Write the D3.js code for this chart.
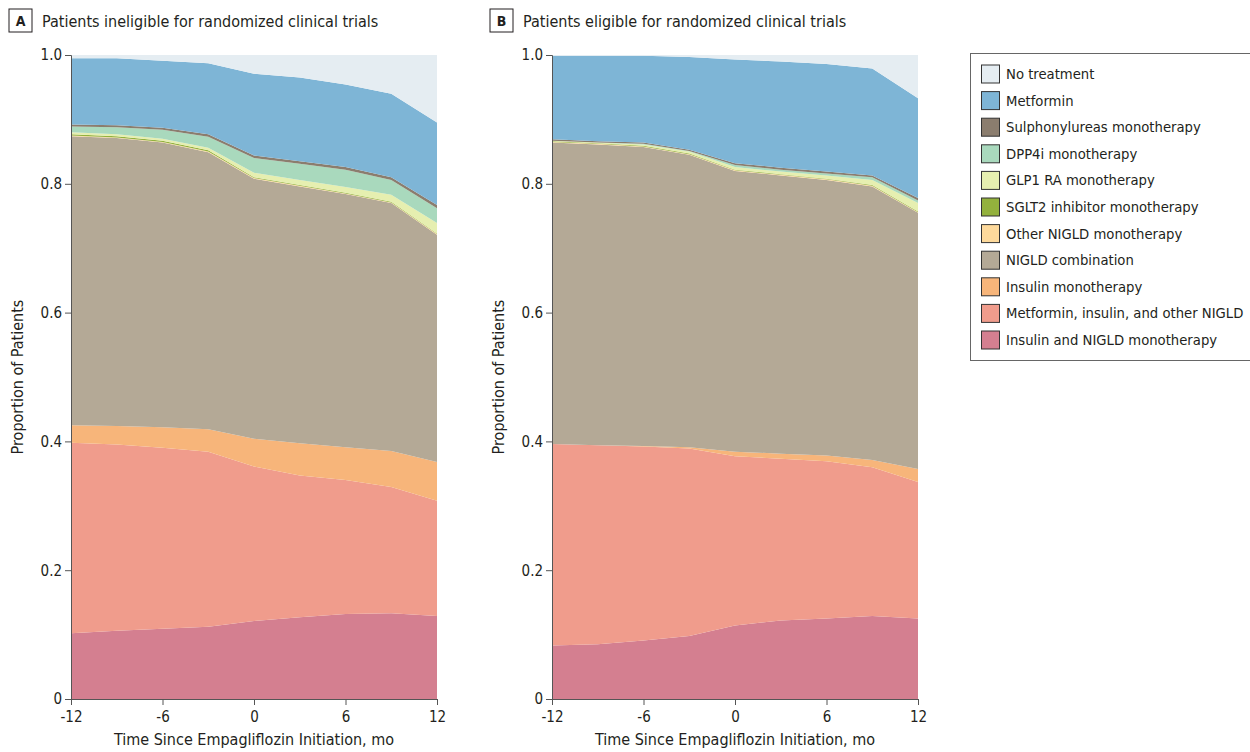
<!DOCTYPE html>
<html>
<head>
<meta charset="utf-8">
<script src="https://cdn.jsdelivr.net/npm/d3@7"></script>
<style>
  body { margin: 0; background: #fff; }
  svg text { font-family: "Liberation Sans Narrow", "DejaVu Sans Condensed", "Noto Sans", sans-serif; fill: #231f20; }
</style>
</head>
<body>
<svg id="chart" width="1250" height="752"></svg>
<script>
// months since empagliflozin initiation
let months = [-12, -9, -6, -3, 0, 3, 6, 9, 12]
let xTicks = [-12, -6, 0, 6, 12]
let yTicks = [0, 0.2, 0.4, 0.6, 0.8, 1.0]

// categories from bottom to top of the stack
let categories = [
  'Insulin and NIGLD monotherapy',
  'Metformin, insulin, and other NIGLD',
  'Insulin monotherapy',
  'NIGLD combination',
  'Other NIGLD monotherapy',
  'SGLT2 inhibitor monotherapy',
  'GLP1 RA monotherapy',
  'DPP4i monotherapy',
  'Sulphonylureas monotherapy',
  'Metformin',
  'No treatment'
]
let colors = ['#d47f90', '#f09c8c', '#f7b57a', '#b4a996', '#fdd99b', '#93b13d', '#e6efb0', '#a9d9bd', '#8b7d6e', '#7eb5d6', '#e5edf2']

// panel A: patients ineligible for RCTs (proportions)
let ineligible = [
  [0.102, 0.106, 0.109, 0.112, 0.121, 0.127, 0.132, 0.133, 0.129],
  [0.296, 0.289, 0.281, 0.272, 0.240, 0.220, 0.208, 0.196, 0.179],
  [0.027, 0.029, 0.032, 0.035, 0.043, 0.050, 0.051, 0.056, 0.060],
  [0.449, 0.447, 0.442, 0.430, 0.404, 0.399, 0.393, 0.385, 0.353],
  [0.001, 0.001, 0.001, 0.001, 0.001, 0.001, 0.001, 0.001, 0.001],
  [0.002, 0.002, 0.002, 0.002, 0.001, 0.001, 0.001, 0.001, 0.001],
  [0.003, 0.003, 0.003, 0.004, 0.007, 0.008, 0.009, 0.011, 0.016],
  [0.009, 0.011, 0.014, 0.017, 0.023, 0.025, 0.027, 0.023, 0.023],
  [0.003, 0.003, 0.003, 0.004, 0.004, 0.004, 0.004, 0.004, 0.005],
  [0.103, 0.104, 0.104, 0.110, 0.127, 0.130, 0.128, 0.130, 0.128],
  [0.005, 0.005, 0.009, 0.013, 0.029, 0.035, 0.046, 0.060, 0.105]
]

// panel B: patients eligible for RCTs
let eligible = [
  [0.083, 0.085, 0.091, 0.098, 0.114, 0.122, 0.125, 0.129, 0.125],
  [0.313, 0.309, 0.301, 0.291, 0.263, 0.251, 0.244, 0.231, 0.212],
  [0.000, 0.000, 0.001, 0.002, 0.007, 0.008, 0.009, 0.011, 0.020],
  [0.468, 0.467, 0.464, 0.454, 0.436, 0.432, 0.428, 0.425, 0.398],
  [0.001, 0.001, 0.001, 0.001, 0.001, 0.001, 0.001, 0.001, 0.001],
  [0.001, 0.001, 0.001, 0.001, 0.001, 0.001, 0.001, 0.001, 0.001],
  [0.001, 0.001, 0.002, 0.003, 0.004, 0.004, 0.005, 0.008, 0.013],
  [0.000, 0.000, 0.001, 0.001, 0.003, 0.003, 0.003, 0.004, 0.004],
  [0.002, 0.002, 0.002, 0.002, 0.003, 0.003, 0.003, 0.003, 0.004],
  [0.130, 0.133, 0.135, 0.144, 0.161, 0.165, 0.167, 0.166, 0.155],
  [0.001, 0.001, 0.001, 0.003, 0.007, 0.010, 0.014, 0.021, 0.067]
]

let svg = d3.select('#chart')
let plotTop = 55, plotBottom = 699

function drawPanel(series, left, right, letter, title) {
  // turn series arrays into rows for d3.stack
  let rows = months.map((m, i) => {
    let row = { month: m }
    categories.forEach((c, k) => { row[c] = series[k][i] })
    return row
  })
  let stacked = d3.stack().keys(categories)(rows)

  let x = d3.scaleLinear().domain([-12, 12]).range([left, right])
  let y = d3.scaleLinear().domain([0, 1]).range([plotBottom, plotTop])

  let area = d3.area()
    .x(d => x(d.data.month))
    .y0(d => y(d[0]))
    .y1(d => y(d[1]))

  let g = svg.append('g')
  g.selectAll('path.layer')
    .data(stacked)
    .enter()
    .append('path')
    .attr('class', 'layer')
    .attr('d', area)
    .attr('fill', (d, i) => colors[i])

  let xAxis = g.append('g')
    .attr('transform', `translate(0,${plotBottom})`)
    .call(d3.axisBottom(x).tickValues(xTicks).tickSize(6).tickFormat(d => d))
  let yAxis = g.append('g')
    .attr('transform', `translate(${left},0)`)
    .call(d3.axisLeft(y).tickValues(yTicks).tickSize(6).tickFormat(d => d === 0 ? '0' : d3.format('.1f')(d)))
  ;[xAxis, yAxis].forEach(a => {
    a.selectAll('path, line').attr('stroke', '#555').attr('stroke-width', 1)
    a.selectAll('text').attr('font-size', 15).attr('fill', '#231f20')
      .style('font-family', '"Liberation Sans Narrow", "DejaVu Sans Condensed", sans-serif')
  })
  xAxis.selectAll('text').attr('dy', '0.95em')

  g.append('text')
    .attr('x', (left + right) / 2)
    .attr('y', 745)
    .attr('text-anchor', 'middle')
    .attr('font-size', 16)
    .text('Time Since Empagliflozin Initiation, mo')

  g.append('text')
    .attr('transform', `translate(${left - 48},${(plotTop + plotBottom) / 2}) rotate(-90)`)
    .attr('text-anchor', 'middle')
    .attr('font-size', 16)
    .text('Proportion of Patients')

  // panel letter box and title
  let bx = left - 62
  g.append('rect')
    .attr('x', bx).attr('y', 9).attr('width', 23).attr('height', 23)
    .attr('fill', '#fff').attr('stroke', '#231f20').attr('stroke-width', 1)
  g.append('text')
    .attr('x', bx + 11.5).attr('y', 26)
    .attr('text-anchor', 'middle')
    .attr('font-size', 14).attr('font-weight', 'bold')
    .text(letter)
  g.append('text')
    .attr('x', bx + 33).attr('y', 27)
    .attr('font-size', 16)
    .text(title)
}

drawPanel(ineligible, 71, 437, 'A', 'Patients ineligible for randomized clinical trials')
drawPanel(eligible, 552, 918, 'B', 'Patients eligible for randomized clinical trials')

// legend, top to bottom in reverse stack order
let legend = svg.append('g')
legend.append('rect')
  .attr('x', 970.5).attr('y', 53.5).attr('width', 290).attr('height', 307)
  .attr('fill', '#fff').attr('stroke', '#666').attr('stroke-width', 1)

let legendItems = categories.map((c, i) => ({ name: c, color: colors[i] })).reverse()
let rowsG = legend.selectAll('g.item')
  .data(legendItems)
  .enter()
  .append('g')
  .attr('class', 'item')
  .attr('transform', (d, i) => `translate(981,${64.5 + i * 26.6})`)
rowsG.append('rect')
  .attr('x', 0.5).attr('y', 0.5).attr('width', 18).attr('height', 18)
  .attr('fill', d => d.color).attr('stroke', '#333').attr('stroke-width', 1)
rowsG.append('text')
  .attr('x', 25).attr('y', 14.5)
  .attr('font-size', 14.7)
  .text(d => d.name)
</script>
</body>
</html>
